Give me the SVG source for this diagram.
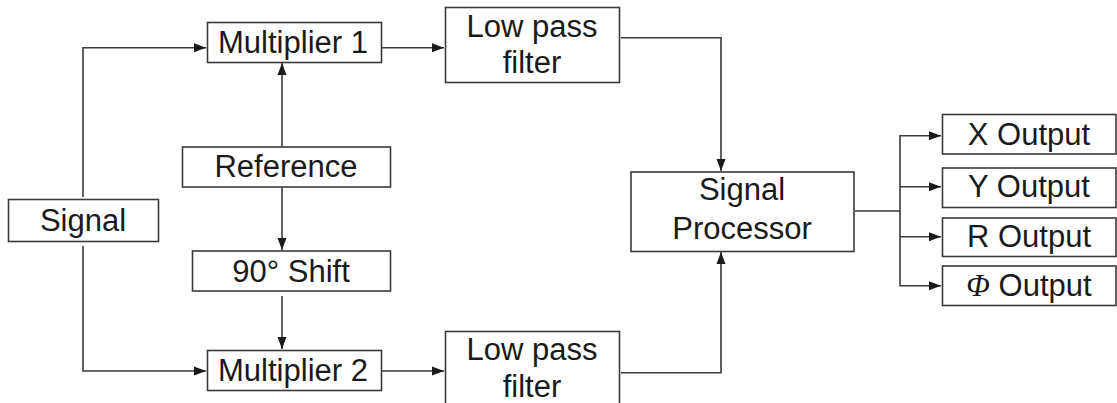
<svg xmlns="http://www.w3.org/2000/svg" width="1117" height="403" viewBox="0 0 1117 403">
  <style>
    .box { fill: #ffffff; stroke: #3a3a3a; stroke-width: 1.6; }
    .lbl { font-family: "Liberation Sans", Arial, sans-serif; font-size: 31px; fill: #1a1a1a; text-anchor: middle; }
    .phi { font-family: "Liberation Serif", "Times New Roman", serif; font-style: italic; }
    .wire { fill: none; stroke: #3a3a3a; stroke-width: 1.6; }
  </style>
  <defs>
    <marker id="arrow" markerUnits="userSpaceOnUse" markerWidth="14" markerHeight="10" refX="12" refY="5" orient="auto">
      <path d="M0,0.5 L12,5 L0,9.5 Z" fill="#1a1a1a"/>
    </marker>
  </defs>
  <rect width="1117" height="403" fill="#ffffff"/>

  <g id="connectors">
    <path class="wire" d="M83,197 V47.7 H206" marker-end="url(#arrow)"/>
    <path class="wire" d="M83,246 V371 H206" marker-end="url(#arrow)"/>
    <path class="wire" d="M282,147 V63" marker-end="url(#arrow)"/>
    <path class="wire" d="M282,187 V250" marker-end="url(#arrow)"/>
    <path class="wire" d="M282,296 V349" marker-end="url(#arrow)"/>
    <path class="wire" d="M382,47.7 H444" marker-end="url(#arrow)"/>
    <path class="wire" d="M382,371 H444" marker-end="url(#arrow)"/>
    <path class="wire" d="M621,37.7 H721 V171" marker-end="url(#arrow)"/>
    <path class="wire" d="M621,372.7 H721 V252" marker-end="url(#arrow)"/>
    <path class="wire" d="M855,211 H900 V135.7 H941" marker-end="url(#arrow)"/>
    <path class="wire" d="M900,186.7 H941" marker-end="url(#arrow)"/>
    <path class="wire" d="M900,211 V236.7 H941" marker-end="url(#arrow)"/>
    <path class="wire" d="M900,236.7 V285.7 H941" marker-end="url(#arrow)"/>
  </g>

  <g id="signal">
    <rect class="box" x="8.5" y="199.5" width="150" height="42"/>
    <text class="lbl" x="83" y="231">Signal</text>
  </g>
  <g id="multiplier1">
    <rect class="box" x="207.5" y="22.5" width="174" height="40"/>
    <text class="lbl" x="293" y="52.5">Multiplier 1</text>
  </g>
  <g id="reference">
    <rect class="box" x="182.5" y="147" width="208" height="40"/>
    <text class="lbl" x="286" y="176.5">Reference</text>
  </g>
  <g id="shift90">
    <rect class="box" x="192.5" y="251" width="198" height="40"/>
    <text class="lbl" x="291" y="281.5">90° Shift</text>
  </g>
  <g id="multiplier2">
    <rect class="box" x="207.5" y="350.5" width="174" height="40"/>
    <text class="lbl" x="293" y="380.5">Multiplier 2</text>
  </g>
  <g id="lowpass1">
    <rect class="box" x="445.5" y="7.5" width="174" height="75"/>
    <text class="lbl" x="532" y="36.5">Low pass</text>
    <text class="lbl" x="532" y="73">filter</text>
  </g>
  <g id="lowpass2">
    <rect class="box" x="445.5" y="331.5" width="174" height="80"/>
    <text class="lbl" x="532" y="360">Low pass</text>
    <text class="lbl" x="532" y="396.5">filter</text>
  </g>
  <g id="processor">
    <rect class="box" x="631" y="172" width="223" height="79.5"/>
    <text class="lbl" x="742" y="200">Signal</text>
    <text class="lbl" x="742" y="238.5">Processor</text>
  </g>
  <g id="xoutput">
    <rect class="box" x="942.5" y="114.5" width="173.5" height="39.5"/>
    <text class="lbl" x="1029" y="144.5">X Output</text>
  </g>
  <g id="youtput">
    <rect class="box" x="942.5" y="168" width="173.5" height="39.5"/>
    <text class="lbl" x="1029" y="196.5">Y Output</text>
  </g>
  <g id="routput">
    <rect class="box" x="942.5" y="218" width="173.5" height="38.5"/>
    <text class="lbl" x="1029" y="247">R Output</text>
  </g>
  <g id="phioutput">
    <rect class="box" x="942.5" y="266" width="173.5" height="39.5"/>
    <text class="lbl" x="1029" y="295.5"><tspan class="phi">Φ</tspan> Output</text>
  </g>
</svg>
